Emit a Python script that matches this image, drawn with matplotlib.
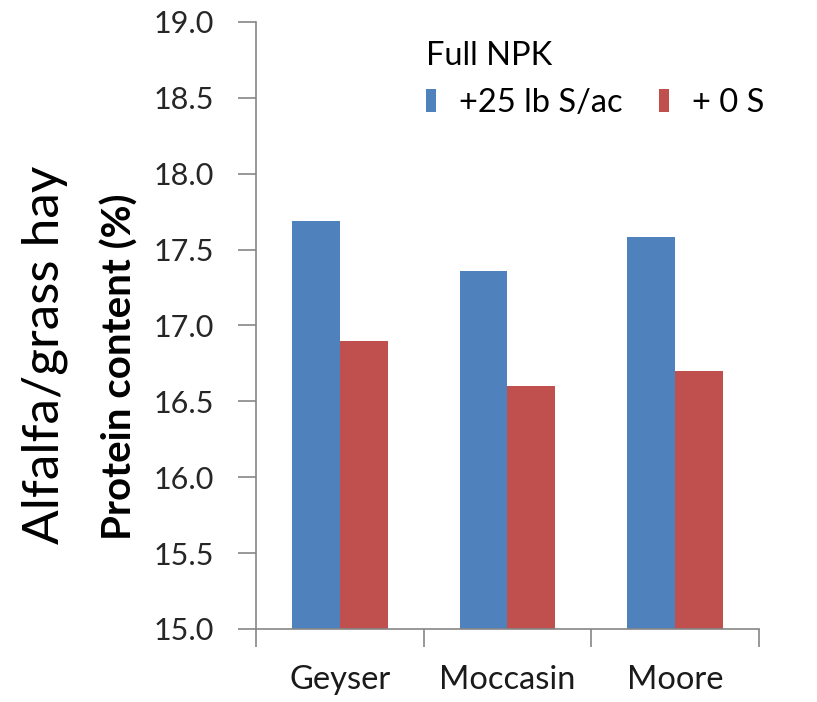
import numpy as np
import matplotlib
matplotlib.use('Agg')
import matplotlib.pyplot as plt

plt.rcParams['font.family'] = ['Lato', 'DejaVu Sans']

# datos
variedades = ['Geyser', 'Moccasin', 'Moore']
con_azufre = [17.69, 17.36, 17.58]
sin_azufre = [16.90, 16.60, 16.70]
etiquetas_y = ['15.0', '15.5', '16.0', '16.5', '17.0', '17.5', '18.0', '18.5', '19.0']

azul = '#4F81BD'
rojo = '#C0504D'
gris = '#868686'

fig = plt.figure(figsize=(8.17, 7.02), dpi=100)
ax = fig.add_axes([0.3133, 0.104, 0.6157, 0.8647])

x = np.arange(len(variedades))
ancho = 0.285
ax.bar(x - ancho / 2, [v - 15 for v in con_azufre], ancho, bottom=15,
       color=azul, label='+25 lb S/ac')
ax.bar(x + ancho / 2, [v - 15 for v in sin_azufre], ancho, bottom=15,
       color=rojo, label='+ 0 S')

ax.set_ylim(15, 19)
ax.set_xlim(-0.5, 2.5)
ax.set_yticks([float(t) for t in etiquetas_y])
ax.set_yticklabels(etiquetas_y, fontsize=22, color='#262626')

ax.set_xticks(x)
ax.set_xticklabels(variedades, fontsize=23.5, color='#1a1a1a')
ax.set_xticks(np.arange(-0.5, 3.0, 1.0), minor=True)
ax.tick_params(axis='x', which='major', length=0, pad=26)
ax.tick_params(axis='x', which='minor', length=13, color=gris, width=1.2)
ax.tick_params(axis='y', length=13, color=gris, width=1.2, pad=17)

for lado in ['top', 'right']:
    ax.spines[lado].set_visible(False)
for lado in ['left', 'bottom']:
    ax.spines[lado].set_color(gris)
    ax.spines[lado].set_linewidth(1.2)

fig.text(0.147, 0.477, 'Protein content (%)', rotation=90, fontsize=29,
         fontweight='bold', ha='center', va='center')
fig.text(0.055, 0.495, 'Alfalfa/grass hay', rotation=90, fontsize=37,
         ha='center', va='center')

leg = ax.legend(title='Full NPK', ncol=2, frameon=False, fontsize=23.5,
                title_fontsize=23.5, handlelength=0.32, handleheight=0.7,
                handletextpad=0.7, columnspacing=1.1, borderpad=0,
                borderaxespad=0, loc='upper left', bbox_to_anchor=(0.338, 0.968))
leg._legend_box.align = 'left'

fig.savefig('out.png', dpi=100)
